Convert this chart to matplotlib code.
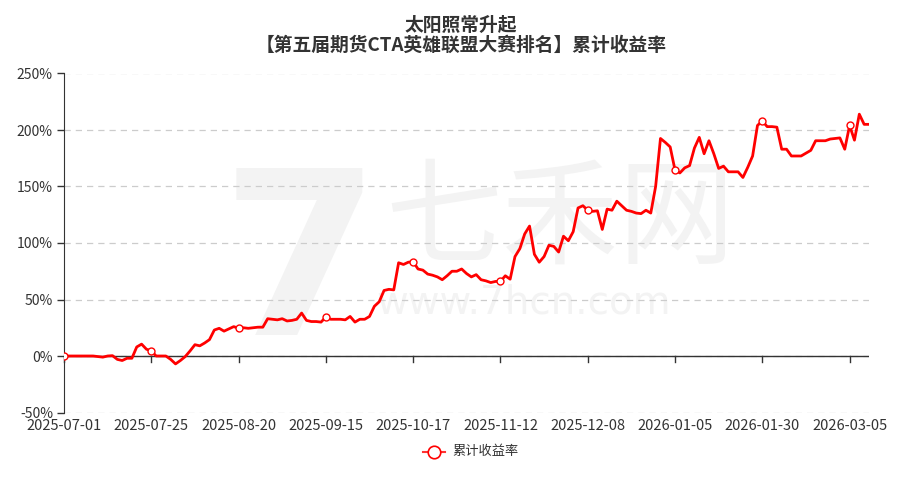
import numpy as np
import matplotlib
matplotlib.use("Agg")
from matplotlib import pyplot as plt

plt.rcParams['font.family'] = ['Noto Sans CJK SC', 'DejaVu Sans']

# cumulative return (%) per trading day
returns = [
    0, 0, 0, 0, 0, 0, 0, -0.5, -1, 0, 0.3, -3, -4, -2, -2, 8, 10.5, 6, 4.5, 0,
    0, 0, -3, -7, -4, -0.5, 4.5, 10, 9, 11.5, 14.5, 23, 24.5, 22, 24, 26, 24.5, 25, 24.5, 25,
    25.5, 25.5, 33, 32.5, 32, 33, 31, 31.5, 32.5, 38, 31.5, 30.5, 30.5, 30, 34.5, 32.5, 32.5, 32.5, 32, 35,
    30, 32.5, 32.5, 35, 44, 48, 58, 59, 58.5, 82.5, 81, 83, 83.5, 77, 76, 72.5, 71.5, 70, 67.5, 71,
    75, 75, 77, 73, 70, 72, 67.5, 66.5, 65, 66, 66, 71, 68, 88, 95, 108, 115, 90, 83, 88,
    98, 97, 92, 106, 102, 110, 131, 133, 129, 128, 128.5, 112, 130, 129, 137, 133, 129, 128, 126.5, 126,
    129, 126.5, 150, 192.5, 189, 185, 164.5, 162, 166.5, 168.5, 184, 193.5, 179, 190.5, 179, 166, 168, 163, 163, 163,
    158, 167, 177, 204, 208, 203, 203, 202.5, 183, 183, 177, 177, 177, 179.5, 182, 190.5, 190.5, 190.5, 192, 192.5,
    193, 183, 204, 191, 214, 205, 205,
]

tick_labels = ["2025-07-01", "2025-07-25", "2025-08-20", "2025-09-15", "2025-10-17",
               "2025-11-12", "2025-12-08", "2026-01-05", "2026-01-30", "2026-03-05"]
tick_step = 18

y_ticks = [-50, 0, 50, 100, 150, 200, 250]

x = np.arange(len(returns))
tick_pos = x[::tick_step][:len(tick_labels)]

fig = plt.figure(figsize=(9.22, 4.78), dpi=100)
ax = fig.add_axes([64 / 922, 1 - 412.5 / 478, 805 / 922, 339 / 478])

# watermark, kept behind the line
wm = "#f3f3f3"
ft = fig.transFigure
ax.text(300 / 922, 1 - 272 / 478, "7", fontsize=165, fontweight="bold", color=wm,
        ha="center", va="center", zorder=0, family="DejaVu Sans", transform=ft)
ax.text(560 / 922, 1 - 222 / 478, "七禾网", fontsize=84, color=wm,
        ha="center", va="center", zorder=0, transform=ft)
ax.text(524 / 922, 1 - 303 / 478, "www.7hcn.com", fontsize=28, color=wm,
        ha="center", va="center", zorder=0, family="DejaVu Sans", transform=ft)

for yt in y_ticks:
    ax.axhline(yt, color="#cccccc", lw=0.9, ls=(0, (5, 4)), zorder=1)
ax.axhline(0, color="#333333", lw=1, zorder=2)
for tp in tick_pos:
    ax.plot([tp, tp], [0, -5], color="#333333", lw=1, zorder=2, clip_on=False)

ax.plot(x, returns, color="#ff0000", lw=2, zorder=3)
mk = x[::tick_step]
ax.plot(mk, np.array(returns)[mk], ls="none", marker="o", ms=5, mfc="white",
        mec="#ff0000", mew=1, zorder=4)

ax.set_xlim(0, len(returns) - 1)
ax.set_ylim(-50, 250)
ax.set_yticks(y_ticks)
ax.set_yticklabels([f"{v}%" for v in y_ticks])
ax.set_xticks(tick_pos)
ax.set_xticklabels(tick_labels)
ax.tick_params(axis="x", length=0, pad=5, labelsize=10.5, colors="#333333")
ax.tick_params(axis="y", length=5, pad=3, labelsize=10, colors="#333333", width=1)
for s in ["top", "right", "bottom"]:
    ax.spines[s].set_visible(False)
ax.spines["left"].set_color("#333333")

fig.text(0.5, 1 - 25 / 478, "太阳照常升起", ha="center", va="center",
         fontsize=13.5, fontweight="bold", color="#333333")
fig.text(0.5, 1 - 45 / 478, "【第五届期货CTA英雄联盟大赛排名】累计收益率", ha="center", va="center",
         fontsize=13.5, fontweight="bold", color="#333333")

# legend
fig.lines.append(plt.Line2D([423 / 922, 445 / 922], [1 - 452 / 478] * 2, transform=ft,
                            color="#ff3333", lw=1.5))
fig.lines.append(plt.Line2D([434 / 922], [1 - 452 / 478], transform=ft, marker="o",
                            ms=9, mfc="white", mec="#ff0000", mew=1.2))
fig.text(452 / 922, 1 - 452 / 478, "累计收益率", ha="left", va="center", fontsize=9.5, color="#333333")

plt.savefig("out.png", dpi=100)
